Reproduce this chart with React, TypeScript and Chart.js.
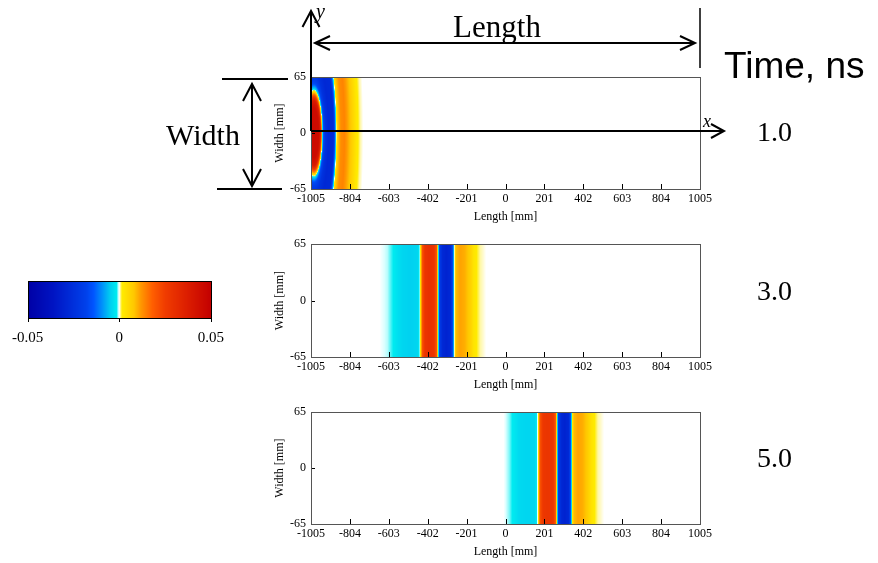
import React, { useEffect, useRef } from "react";
import { Chart, registerables } from "chart.js";

Chart.register(...registerables);

const SERIF = '"Liberation Serif", "Times New Roman", Times, serif';
const SANS = '"Liberation Sans", Arial, Helvetica, sans-serif';

// Axis ticks
const LENGTH_TICKS = [-1005, -804, -603, -402, -201, 0, 201, 402, 603, 804, 1005];
const WIDTH_TICKS = [-65, 0, 65];
const FIELD_TICKS = [-0.05, 0, 0.05];
const TIME_LABELS = ["1.0", "3.0", "5.0"];

// Colour scale of the field (-0.05 .. 0.05), stops as fractions of the range
const CMAP_STOPS = [0, 0.14, 0.32, 0.36, 0.41, 0.45, 0.485, 0.497, 0.5, 0.503, 0.515, 0.58, 0.62, 0.68, 0.75, 0.87, 1];
const CMAP_COLORS = [
  [0, 0, 165], [0, 20, 195], [0, 65, 235], [0, 85, 255], [0, 150, 250], [0, 205, 240],
  [0, 235, 240], [220, 255, 255], [255, 255, 255], [255, 250, 200], [255, 235, 0],
  [255, 200, 0], [255, 150, 0], [255, 95, 0], [240, 60, 0], [220, 30, 0], [195, 0, 0],
];

// t = 1.0 ns: field vs distance from the source point (mm)
const T1_RADIUS = [0, 25, 33, 38, 42, 45, 50, 60, 75, 100, 108, 114, 118, 124, 140, 158, 175, 200, 222, 240, 255];
const T1_FIELD = [0.046, 0.045, 0.038, 0.02, 0.004, -0.004, -0.016, -0.024, -0.028, -0.027, -0.015, -0.002, 0.002, 0.008, 0.013, 0.014, 0.011, 0.006, 0.002, 0.0005, 0];
const T1_SOURCE_X = -990;
const T1_SOURCE_Y = 0;
const T1_Y_STRETCH = 0.87;

// t = 3.0 ns: field vs length position (mm)
const T3_POSITION = [-650, -610, -580, -555, -530, -490, -455, -447, -442, -437, -430, -415, -395, -370, -356, -350, -346, -340, -325, -305, -285, -272, -266, -262, -255, -235, -210, -185, -165, -150, -130, -100];
const T3_FIELD = [0, -0.0005, -0.0015, -0.003, -0.004, -0.0045, -0.004, -0.002, 0, 0.006, 0.02, 0.028, 0.03, 0.028, 0.02, 0.004, -0.004, -0.02, -0.028, -0.03, -0.028, -0.015, -0.002, 0.002, 0.009, 0.011, 0.01, 0.007, 0.003, 0.0015, 0.0005, 0];

// t = 5.0 ns: field vs length position (mm)
const T5_POSITION = [-10, 20, 45, 70, 110, 150, 160, 166, 171, 178, 195, 217, 245, 258, 264, 268, 274, 290, 305, 325, 337, 342, 346, 353, 375, 400, 425, 445, 460, 478, 510];
const T5_FIELD = [0, -0.0008, -0.002, -0.0035, -0.004, -0.0038, -0.002, 0, 0.006, 0.02, 0.027, 0.028, 0.027, 0.02, 0.004, -0.004, -0.02, -0.028, -0.03, -0.028, -0.015, -0.002, 0.002, 0.009, 0.011, 0.01, 0.007, 0.003, 0.0015, 0.0005, 0];

type Profile =
  | { kind: "radial"; pos: number[]; val: number[]; x0: number; y0: number; stretch: number }
  | { kind: "plane"; pos: number[]; val: number[] };

function sample(pos: number[], val: number[], t: number): number {
  if (t <= pos[0]) return val[0];
  const n = pos.length;
  if (t >= pos[n - 1]) return val[n - 1];
  let i = 1;
  while (pos[i] < t) i++;
  const f = (t - pos[i - 1]) / (pos[i] - pos[i - 1]);
  return val[i - 1] + f * (val[i] - val[i - 1]);
}

function colorFor(v: number): number[] {
  let f = (v + 0.05) / 0.1;
  f = Math.max(0, Math.min(1, f));
  let i = 1;
  while (i < CMAP_STOPS.length - 1 && CMAP_STOPS[i] < f) i++;
  const a = CMAP_STOPS[i - 1];
  const b = CMAP_STOPS[i];
  const k = b > a ? (f - a) / (b - a) : 0;
  const c0 = CMAP_COLORS[i - 1];
  const c1 = CMAP_COLORS[i];
  return [0, 1, 2].map((j) => Math.round(c0[j] + k * (c1[j] - c0[j])));
}

// Paints the field pixel by pixel inside the plot area, using the chart scales
function fieldPlugin(profile: Profile) {
  return {
    id: "fieldMap",
    beforeDatasetsDraw(chart: any) {
      const { ctx, chartArea: a, scales } = chart;
      const xs = scales.x;
      const ys = scales.y;
      const w = Math.round(a.right - a.left);
      const h = Math.round(a.bottom - a.top);
      const off = document.createElement("canvas");
      off.width = w;
      off.height = h;
      const octx = off.getContext("2d")!;
      const img = octx.createImageData(w, h);
      for (let j = 0; j < h; j++) {
        const yv = ys.getValueForPixel(a.top + j + 0.5);
        for (let i = 0; i < w; i++) {
          const xv = xs.getValueForPixel(a.left + i + 0.5);
          const coord =
            profile.kind === "radial"
              ? Math.hypot(xv - profile.x0, (yv - profile.y0) * profile.stretch)
              : xv;
          const c = colorFor(sample(profile.pos, profile.val, coord));
          const p = (j * w + i) * 4;
          img.data[p] = c[0];
          img.data[p + 1] = c[1];
          img.data[p + 2] = c[2];
          img.data[p + 3] = 255;
        }
      }
      octx.putImageData(img, 0, 0);
      ctx.drawImage(off, a.left, a.top);
    },
  };
}

// Plot frame plus inward tick marks
const framePlugin = {
  id: "frameTicks",
  afterDraw(chart: any) {
    const { ctx, chartArea: a, scales } = chart;
    ctx.save();
    ctx.strokeStyle = "#000";
    ctx.lineWidth = 1;
    ctx.beginPath();
    for (const v of LENGTH_TICKS) {
      const px = Math.round(scales.x.getPixelForValue(v)) + 0.5;
      ctx.moveTo(px, a.bottom);
      ctx.lineTo(px, a.bottom - 5);
    }
    for (const v of WIDTH_TICKS) {
      const py = Math.round(scales.y.getPixelForValue(v)) + 0.5;
      ctx.moveTo(a.left, py);
      ctx.lineTo(a.left + 4, py);
    }
    ctx.stroke();
    ctx.strokeStyle = "#555";
    ctx.strokeRect(Math.round(a.left) + 0.5, Math.round(a.top) + 0.5, Math.round(a.right - a.left), Math.round(a.bottom - a.top));
    ctx.restore();
  },
};

const PANEL_LEFT = 266;
const PANEL_W = 454;

function FieldPanel({ top, height, profile }: { top: number; height: number; profile: Profile }) {
  const ref = useRef<HTMLCanvasElement>(null);
  useEffect(() => {
    const font = { family: SERIF, size: 12 };
    const chart = new Chart(ref.current!, {
      type: "scatter",
      data: { datasets: [{ data: [] }] },
      options: {
        responsive: false,
        animation: false,
        devicePixelRatio: 1,
        layout: { padding: { top: 10, right: 20, bottom: 3, left: 0 } },
        plugins: { legend: { display: false }, tooltip: { enabled: false } },
        scales: {
          x: {
            type: "linear",
            min: -1005,
            max: 1005,
            afterBuildTicks: (s: any) => {
              s.ticks = LENGTH_TICKS.map((value) => ({ value }));
            },
            afterFit: (s: any) => {
              s.height = 35;
            },
            ticks: { autoSkip: false, maxRotation: 0, padding: 3, color: "#000", font, callback: (v: any) => String(v) },
            grid: { display: false, drawTicks: false },
            border: { display: false },
            title: { display: true, text: "Length [mm]", color: "#000", font, padding: { top: 0, bottom: 0 } },
          },
          y: {
            type: "linear",
            min: -65,
            max: 65,
            afterBuildTicks: (s: any) => {
              s.ticks = WIDTH_TICKS.map((value) => ({ value }));
            },
            afterFit: (s: any) => {
              s.width = 45;
            },
            ticks: { autoSkip: false, padding: 5, color: "#000", font, callback: (v: any) => String(v) },
            grid: { display: false, drawTicks: false },
            border: { display: false },
            title: { display: true, text: "Width [mm]", color: "#000", font, padding: { top: 7, bottom: 0 } },
          },
        },
      } as any,
      plugins: [fieldPlugin(profile), framePlugin],
    });
    return () => chart.destroy();
  }, []);
  return (
    <canvas
      ref={ref}
      width={PANEL_W}
      height={height + 48}
      style={{ position: "absolute", left: PANEL_LEFT, top: top - 10 }}
    />
  );
}

// Colour bar painted from the same colour scale along its own x axis
const colorbarPlugin = {
  id: "colorbar",
  beforeDatasetsDraw(chart: any) {
    const { ctx, chartArea: a, scales } = chart;
    ctx.save();
    for (let px = Math.round(a.left); px < Math.round(a.right); px++) {
      const c = colorFor(scales.x.getValueForPixel(px + 0.5));
      ctx.fillStyle = `rgb(${c[0]},${c[1]},${c[2]})`;
      ctx.fillRect(px, a.top, 1, a.bottom - a.top);
    }
    ctx.strokeStyle = "#000";
    ctx.lineWidth = 1;
    ctx.strokeRect(Math.round(a.left) + 0.5, Math.round(a.top) + 0.5, Math.round(a.right - a.left), Math.round(a.bottom - a.top));
    ctx.beginPath();
    for (const v of FIELD_TICKS) {
      const px = Math.round(scales.x.getPixelForValue(v)) + 0.5;
      ctx.moveTo(px, a.bottom);
      ctx.lineTo(px, a.bottom + 4);
    }
    ctx.stroke();
    ctx.restore();
  },
};

function ColorBar() {
  const ref = useRef<HTMLCanvasElement>(null);
  useEffect(() => {
    const chart = new Chart(ref.current!, {
      type: "scatter",
      data: { datasets: [{ data: [] }] },
      options: {
        responsive: false,
        animation: false,
        devicePixelRatio: 1,
        layout: { padding: { top: 11, right: 10, bottom: 0, left: 20 } },
        plugins: { legend: { display: false }, tooltip: { enabled: false } },
        scales: {
          x: {
            type: "linear",
            min: -0.05,
            max: 0.05,
            afterBuildTicks: (s: any) => {
              s.ticks = FIELD_TICKS.map((value) => ({ value }));
            },
            afterFit: (s: any) => {
              s.height = 37;
            },
            ticks: { autoSkip: false, maxRotation: 0, padding: 11, color: "#000", font: { family: SERIF, size: 15 }, callback: (v: any) => String(v) },
            grid: { display: false, drawTicks: false },
            border: { display: false },
          },
          y: { display: false, min: 0, max: 1 },
        },
      } as any,
      plugins: [colorbarPlugin],
    });
    return () => chart.destroy();
  }, []);
  return <canvas ref={ref} width={234} height={85} style={{ position: "absolute", left: 1, top: 270 }} />;
}

const PANELS: { top: number; height: number; profile: Profile }[] = [
  { top: 75, height: 114, profile: { kind: "radial", pos: T1_RADIUS, val: T1_FIELD, x0: T1_SOURCE_X, y0: T1_SOURCE_Y, stretch: T1_Y_STRETCH } },
  { top: 242, height: 115, profile: { kind: "plane", pos: T3_POSITION, val: T3_FIELD } },
  { top: 410, height: 114, profile: { kind: "plane", pos: T5_POSITION, val: T5_FIELD } },
];

const TIME_BASELINES = [141, 300, 467];

function Annotations() {
  return (
    <svg width={878} height={563} style={{ position: "absolute", left: 0, top: 0 }}>
      <g stroke="#000" strokeWidth={2} fill="none">
        {/* length span */}
        <line x1={315} y1={43} x2={695} y2={43} />
        <polyline points="330,36 315,43 330,50" />
        <polyline points="680,36 695,43 680,50" />
        <line x1={700} y1={8} x2={700} y2={68} strokeWidth={1.5} />
        {/* coordinate axes */}
        <line x1={311} y1={131} x2={311} y2={11} />
        <polyline points="302.5,27 311,11 319.5,27" />
        <line x1={311} y1={131} x2={724} y2={131} />
        <polyline points="711,124 724,131 711,138" />
        {/* width span */}
        <line x1={222} y1={79} x2={288} y2={79} />
        <line x1={217} y1={189} x2={282} y2={189} />
        <line x1={252} y1={84} x2={252} y2={186} />
        <polyline points="243,101 252,84 261,101" />
        <polyline points="243,169 252,186 261,169" />
      </g>
      <g fill="#000">
        <text x={497} y={37} fontFamily={SERIF} fontSize={31} textAnchor="middle">Length</text>
        <text x={203} y={145} fontFamily={SERIF} fontSize={30} textAnchor="middle">Width</text>
        <text x={316} y={18} fontFamily={SERIF} fontSize={20} fontStyle="italic">y</text>
        <text x={703} y={127} fontFamily={SERIF} fontSize={18} fontStyle="italic">x</text>
        <text x={724} y={78} fontFamily={SANS} fontSize={37}>Time, ns</text>
        {TIME_LABELS.map((t, i) => (
          <text key={t} x={757} y={TIME_BASELINES[i]} fontFamily={SERIF} fontSize={28}>{t}</text>
        ))}
      </g>
    </svg>
  );
}

export default function App() {
  return (
    <div style={{ position: "fixed", left: 0, top: 0, width: 878, height: 563, background: "#fff", overflow: "hidden" }}>
      {PANELS.map((p, i) => (
        <FieldPanel key={i} top={p.top} height={p.height} profile={p.profile} />
      ))}
      <ColorBar />
      <Annotations />
    </div>
  );
}
